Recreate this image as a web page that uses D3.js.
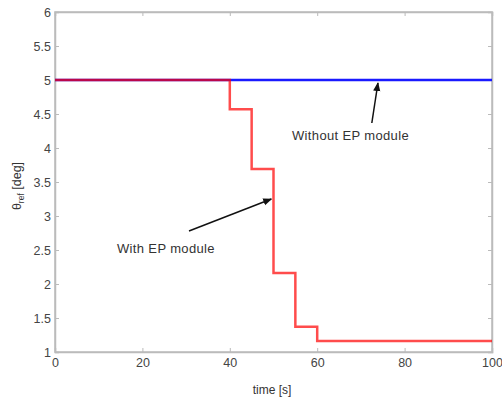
<!DOCTYPE html>
<html><head><meta charset="utf-8">
<script src="https://cdn.jsdelivr.net/npm/d3@7"></script>
<style>body{margin:0;background:#fff}svg{display:block}</style>
</head><body>
<script>
const xTicks = [0, 20, 40, 60, 80, 100];
const yTicks = [1, 1.5, 2, 2.5, 3, 3.5, 4, 4.5, 5, 5.5, 6];
const withoutEP_t = [0, 100];
const withoutEP_v = [5, 5];
const withEP_t = [0, 40, 45, 50, 55, 60, 100];
const withEP_v = [5, 4.57, 3.69, 2.16, 1.37, 1.16, 1.16];

const W = 502, H = 402;
const m = {left: 55, right: 10, top: 12, bottom: 50};
const svg = d3.select("body").append("svg").attr("width", W).attr("height", H);
const x = d3.scaleLinear().domain([0, 100]).range([m.left, W - m.right]);
const y = d3.scaleLinear().domain([1, 6]).range([H - m.bottom, m.top]);

const axisColor = "#bbb", textColor = "#444";
const fontFam = "Liberation Sans, Arial, sans-serif";

// frame
svg.append("rect").attr("x", x(0)).attr("y", y(6)).attr("width", x(100) - x(0)).attr("height", y(1) - y(6))
  .attr("fill", "none").attr("stroke", axisColor).attr("stroke-width", 1.5);

svg.append("g").attr("transform", `translate(0,${y(1)})`)
  .call(d3.axisBottom(x).tickValues(xTicks).tickSize(-4).tickPadding(6));
svg.append("g").attr("transform", `translate(${x(0)},0)`)
  .call(d3.axisLeft(y).tickValues(yTicks).tickSize(-4).tickPadding(4).tickFormat(d3.format("")));
// mirrored ticks
svg.append("g").attr("transform", `translate(0,${y(6)})`)
  .call(d3.axisTop(x).tickValues(xTicks).tickSize(-4).tickFormat(""));
svg.append("g").attr("transform", `translate(${x(100)},0)`)
  .call(d3.axisRight(y).tickValues(yTicks).tickSize(-4).tickFormat(""));
svg.selectAll(".domain").attr("stroke", axisColor).attr("stroke-width", 1.5);
svg.selectAll(".tick line").attr("stroke", axisColor);
svg.selectAll(".tick text").attr("fill", textColor).attr("font-size", 12.5).attr("font-family", fontFam);

// lines
const line = d3.line().curve(d3.curveStepAfter);
const blue = withoutEP_t.map((t, i) => [x(t), y(withoutEP_v[i])]);
const red = withEP_t.map((t, i) => [x(t), y(withEP_v[i])]);
svg.append("path").attr("d", line(blue)).attr("fill", "none").attr("stroke", "#1a1aff").attr("stroke-width", 2.5);
svg.append("path").attr("d", line(red)).attr("fill", "none").attr("stroke", "#ff0000").attr("stroke-opacity", 0.7).attr("stroke-width", 2.5);

// arrows
const defs = svg.append("defs");
defs.append("marker").attr("id", "ah").attr("viewBox", "0 0 10 10").attr("refX", 9).attr("refY", 5)
  .attr("markerWidth", 6).attr("markerHeight", 6).attr("orient", "auto")
  .append("path").attr("d", "M0,1 L10,5 L0,9 z").attr("fill", "#111");
svg.append("line").attr("x1", x(72.5)).attr("y1", 123).attr("x2", x(73.9)).attr("y2", y(5) + 3)
  .attr("stroke", "#111").attr("stroke-width", 1.5).attr("marker-end", "url(#ah)");
svg.append("line").attr("x1", 189).attr("y1", 231).attr("x2", x(49.5)).attr("y2", 199)
  .attr("stroke", "#111").attr("stroke-width", 1.5).attr("marker-end", "url(#ah)");

svg.append("text").attr("x", 292).attr("y", 140).text("Without EP module")
  .attr("fill", "#333").attr("font-size", 13).attr("letter-spacing", 0.35).attr("font-family", fontFam);
svg.append("text").attr("x", 117).attr("y", 253).text("With EP module")
  .attr("fill", "#333").attr("font-size", 13).attr("letter-spacing", 0.35).attr("font-family", fontFam);

// axis labels
svg.append("text").attr("x", 272).attr("y", 394).attr("text-anchor", "middle")
  .attr("fill", "#333").attr("font-size", 12).attr("font-family", fontFam).text("time [s]");
const yl = svg.append("text").attr("transform", `translate(21,186) rotate(-90)`)
  .attr("text-anchor", "middle").attr("fill", "#333").attr("font-size", 12.5).attr("font-family", fontFam);
yl.append("tspan").text("θ");
yl.append("tspan").attr("font-size", 8.5).attr("dy", 3).text("ref");
yl.append("tspan").attr("dy", -3).text(" [deg]");
</script>
</body></html>
